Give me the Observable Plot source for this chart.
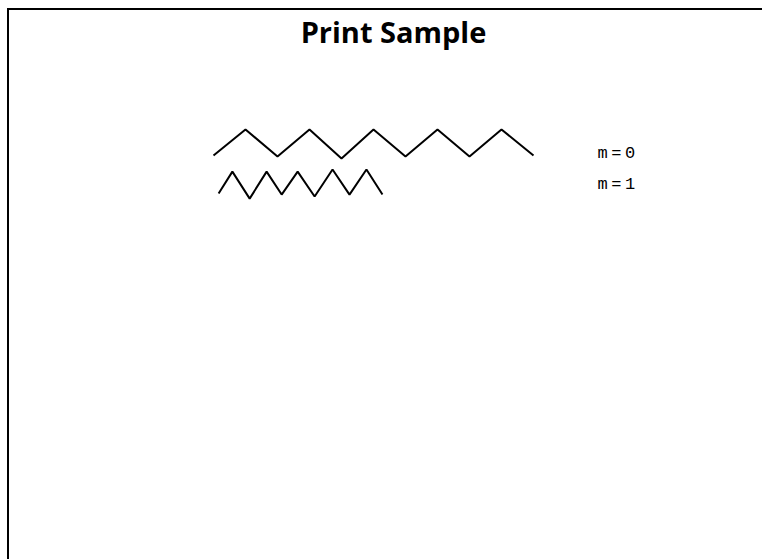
<!DOCTYPE html>
<html>
<head>
<meta charset="utf-8">
<script src="https://cdn.jsdelivr.net/npm/d3@7"></script>
<script src="https://cdn.jsdelivr.net/npm/@observablehq/plot@0.6"></script>
<style>
  html, body { margin: 0; padding: 0; overflow: hidden; background: #fff; width: 762px; height: 559px; }
  #frame { position: absolute; left: 7px; top: 8px; width: 900px; height: 700px;
           border-left: 2px solid #000; border-top: 2px solid #000; box-sizing: border-box; }
  #title { position: absolute; left: 0; top: 14px; width: 787px; text-align: center;
           font-family: "Open Sans", sans-serif; font-weight: 700; font-size: 29px; line-height: 36px; color: #000; }
  #chart { position: absolute; left: 0; top: 0; }
</style>
</head>
<body>
<div id="frame"></div>
<div id="title">Print Sample</div>
<div id="chart"></div>
<script>
// Series m=0
const m0x = [0, 1, 2, 3, 4, 5, 6, 7, 8, 9, 10];
const m0y = [0.04, 1, 0, 1, -0.07, 1, 0, 1, 0, 1, 0.04];
// Series m=1
const m1x = [0.16, 0.59, 1.13, 1.66, 2.13, 2.63, 3.16, 3.72, 4.25, 4.78, 5.28];
const m1y = [-1.37, -0.56, -1.56, -0.56, -1.41, -0.56, -1.48, -0.48, -1.41, -0.48, -1.41];
// Labels
const labels = ["m=0", "m=1"];
const labelX = [12, 12];
const labelY = [0.15, -1.0];

const rows = [
  ...m0x.map((x, i) => ({series: "m=0", x, y: m0y[i]})),
  ...m1x.map((x, i) => ({series: "m=1", x, y: m1y[i]}))
];
const labelRows = labels.map((t, i) => ({t, x: labelX[i], y: labelY[i]}));

const chart = Plot.plot({
  width: 762,
  height: 559,
  marginLeft: 213,
  marginRight: 229,
  marginTop: 129,
  marginBottom: 349,
  x: {domain: [0, 10], axis: null},
  y: {domain: [-2, 1], axis: null},
  style: {background: "transparent", overflow: "visible"},
  marks: [
    Plot.line(rows, {x: "x", y: "y", z: "series", stroke: "#000", strokeWidth: 2, strokeLinejoin: "miter", strokeLinecap: "butt"}),
    Plot.text(labelRows, {x: "x", y: "y", text: "t", textAnchor: "start", lineAnchor: "middle",
      fontFamily: "Liberation Mono, monospace", fontSize: 17, fill: "#000", className: "lbl"})
  ]
});
d3.select(chart).selectAll(".lbl text").attr("letter-spacing", "3.5px");
document.getElementById("chart").appendChild(chart);
</script>
</body>
</html>
